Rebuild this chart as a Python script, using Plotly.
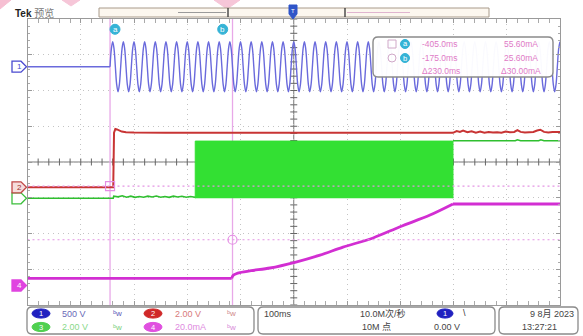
import plotly.graph_objects as go

W, H = 583, 336
GL, GR, GT, GB = 27.5, 560.0, 19.0, 305.0   # graticule box in pixels

time_range_ms = [-560.0, 440.0]          # 100 ms/div, 10 divisions
time_per_div_ms = 100.0
cursor_times_ms = [-405.0, -175.0]       # cursor a, cursor b
cursor_values_ma = [55.60, 25.60]

# channel scales (units/div) and zero position (divisions above centre)
ch_scale = [500.0, 2.0, 2.0, 20.0]
ch_zero_div = [2.666, -0.708, -1.015, -3.455]

# CH1 mains voltage: flat before cursor a, then 50 Hz sine (one cycle shape repeated)
ch1_pre_t_ms = [-560.0, -405.0]
ch1_pre_v = [0.0, 0.0]
ch1_start_ms = -405.0
ch1_period_ms = 20.0
ch1_cycle_v = [0.0, 250.0, 350.0, 250.0, 0.0, -250.0, -350.0, -250.0]

# CH2 (red) supply rail
ch2_t_ms = [-560, -399, -397.5, -395, -392, -388, -383, -375, -360, -300, -200, -100,
            0, 100, 200, 239, 246, 252, 258, 266, 274, 282, 290, 298, 306, 314, 322,
            330, 338, 346, 354, 360, 366, 374, 382, 390, 397, 403, 410, 418, 426, 434, 440]
ch2_v = [0.0, 0.0, 3.05, 3.26, 3.24, 3.18, 3.12, 3.08, 3.06, 3.05, 3.05, 3.05,
         3.05, 3.05, 3.05, 3.05, 3.15, 3.10, 3.18, 3.08, 3.14, 3.06, 3.12, 3.05, 3.10, 3.06, 3.08,
         3.05, 3.12, 3.08, 3.10, 3.20, 3.10, 3.06, 3.08, 3.10, 3.18, 3.22, 3.10, 3.06, 3.10, 3.08, 3.10]

# CH3 (green) PWM signal
ch3_pre_t_ms = [-560, -399, -398, -390, -382, -374, -366, -358, -350, -342, -334, -326,
                -318, -310, -302, -294, -286, -278, -270, -262, -254, -245]
ch3_pre_v = [0.0, 0.0, 0.12, 0.08, 0.14, 0.06, 0.12, 0.05, 0.10, 0.06, 0.12, 0.07,
             0.13, 0.06, 0.10, 0.05, 0.12, 0.07, 0.11, 0.06, 0.10, 0.06]
ch3_pwm_start_ms, ch3_pwm_end_ms = -245.0, 239.0
ch3_pwm_low_v, ch3_pwm_high_v = 0.0, 3.20
ch3_post_t_ms = [239, 250, 300, 356, 360, 366, 400, 404, 410, 440]
ch3_post_v = [3.22, 3.22, 3.22, 3.22, 3.27, 3.22, 3.22, 3.27, 3.22, 3.22]

# CH4 (magenta) current: flat, step at cursor b, rising ramp, flat
ch4_flat_t_ms = [-560, -176.5]
ch4_flat_ma = [4.0, 4.0]
ch4_ramp_t_ms = [-176.5, -174, -168, -161, -140, -104.6, -57.7, -10.7, 32.5, 89,
                 139.6, 195.9, 239]
ch4_ramp_ma = [4.0, 5.6, 6.6, 7.2, 8.3, 9.8, 13.0, 17.0, 21.5, 26.6,
               32.9, 39.4, 45.6]
ch4_end_t_ms = [239, 440]
ch4_end_ma = [45.6, 45.6]

# ---------------- helpers ----------------
def px(x):
    return x / W


def py(y):
    return 1 - y / H


def ch_range(i):
    return [(-4 - ch_zero_div[i]) * ch_scale[i], (4 - ch_zero_div[i]) * ch_scale[i]]


def zero_px(i):
    return (GT + GB) / 2 - ch_zero_div[i] * (GB - GT) / 8


def rrect(x0, y0, x1, y1, r, fill, line, width=1.2):
    p = (f"M {px(x0 + r)},{py(y0)} L {px(x1 - r)},{py(y0)} Q {px(x1)},{py(y0)} {px(x1)},{py(y0 + r)} "
         f"L {px(x1)},{py(y1 - r)} Q {px(x1)},{py(y1)} {px(x1 - r)},{py(y1)} "
         f"L {px(x0 + r)},{py(y1)} Q {px(x0)},{py(y1)} {px(x0)},{py(y1 - r)} "
         f"L {px(x0)},{py(y0 + r)} Q {px(x0)},{py(y0)} {px(x0 + r)},{py(y0)} Z")
    return dict(type="path", xref="paper", yref="paper", path=p, fillcolor=fill,
                line=dict(color=line, width=width), layer="above")


def poly(points, fill, line=None, width=1.0):
    p = "M " + " L ".join(f"{px(x)},{py(y)}" for x, y in points) + " Z"
    return dict(type="path", xref="paper", yref="paper", path=p, fillcolor=fill,
                line=dict(color=line or fill, width=width), layer="above")


def oval(cx, cy, rx, ry, fill, line=None):
    return dict(type="circle", xref="paper", yref="paper", x0=px(cx - rx), x1=px(cx + rx),
                y0=py(cy + ry), y1=py(cy - ry), fillcolor=fill,
                line=dict(color=line or fill, width=1), layer="above")


def ann(x, y, text, color="#333", size=9, xanchor="left", family="Liberation Sans, Noto Sans CJK SC"):
    return dict(x=px(x), y=py(y), xref="paper", yref="paper", text=text, showarrow=False,
                xanchor=xanchor, yanchor="middle", font=dict(color=color, size=size, family=family))


# ---------------- traces ----------------
fig = go.Figure()
BLUE, RED, GREEN, GBAND, MAG = "#6a6adc", "#c83434", "#2fbf2f", "#33e033", "#d22ed2"

# CH1
fig.add_trace(go.Scatter(x=ch1_pre_t_ms, y=ch1_pre_v, mode="lines", yaxis="y2",
                         line=dict(color=BLUE, width=1.6)))
n_cycles = int((time_range_ms[1] - ch1_start_ms) / ch1_period_ms) + 1
wave_t, wave_v = [], []
for k in range(n_cycles):
    for i, v in enumerate(ch1_cycle_v):
        t = ch1_start_ms + k * ch1_period_ms + i * ch1_period_ms / len(ch1_cycle_v)
        if t <= time_range_ms[1]:
            wave_t.append(t)
            wave_v.append(v)
fig.add_trace(go.Scatter(x=wave_t, y=wave_v, mode="lines", yaxis="y2",
                         line=dict(color=BLUE, width=1.4, shape="spline", smoothing=1.0)))

# CH3 band + lines
fig.add_trace(go.Scatter(
    x=[ch3_pwm_start_ms, ch3_pwm_start_ms, ch3_pwm_end_ms, ch3_pwm_end_ms],
    y=[ch3_pwm_low_v, ch3_pwm_high_v, ch3_pwm_high_v, ch3_pwm_low_v],
    mode="lines", fill="toself", fillcolor=GBAND, yaxis="y4",
    line=dict(color=GBAND, width=1)))
fig.add_trace(go.Scatter(x=ch3_pre_t_ms, y=ch3_pre_v, mode="lines", yaxis="y4",
                         line=dict(color=GREEN, width=1.6)))
fig.add_trace(go.Scatter(x=ch3_post_t_ms, y=ch3_post_v, mode="lines", yaxis="y4",
                         line=dict(color=GREEN, width=1.6)))

# CH2
fig.add_trace(go.Scatter(x=ch2_t_ms, y=ch2_v, mode="lines", yaxis="y3",
                         line=dict(color=RED, width=2)))

# CH4
fig.add_trace(go.Scatter(x=ch4_flat_t_ms, y=ch4_flat_ma, mode="lines", yaxis="y5",
                         line=dict(color=MAG, width=2.8)))
fig.add_trace(go.Scatter(x=ch4_ramp_t_ms, y=ch4_ramp_ma, mode="lines", yaxis="y5",
                         line=dict(color=MAG, width=2.8, shape="spline", smoothing=0.8)))
fig.add_trace(go.Scatter(x=ch4_end_t_ms, y=ch4_end_ma, mode="lines", yaxis="y5",
                         line=dict(color=MAG, width=2.8)))

# cursor level guides (dotted) drawn as lines on the CH4 axis
for v in cursor_values_ma:
    fig.add_trace(go.Scatter(x=time_range_ms, y=[v, v], mode="lines", yaxis="y5",
                             line=dict(color="#e494e4", width=1.2, dash="2px,3px")))

# cursor readout points
fig.add_trace(go.Scatter(x=cursor_times_ms, y=cursor_values_ma, mode="markers", yaxis="y5",
                         marker=dict(symbol=["square-open", "circle-open"], size=9,
                                     color="#e48ee4", line=dict(width=1.2))))

# centre cross tick marks
n_xt = int((time_range_ms[1] - time_range_ms[0]) / (time_per_div_ms / 5)) + 1
xt = [time_range_ms[0] + i * time_per_div_ms / 5 for i in range(n_xt)]
x_center = (time_range_ms[0] + time_range_ms[1]) / 2
fig.add_trace(go.Scatter(x=xt, y=[0] * len(xt), mode="markers", yaxis="y",
                         marker=dict(symbol="line-ns", size=5, line=dict(color="#666", width=1))))
yt = [-4 + i * 0.2 for i in range(41)]
fig.add_trace(go.Scatter(x=[x_center] * len(yt), y=yt, mode="markers", yaxis="y",
                         marker=dict(symbol="line-ew", size=5, line=dict(color="#666", width=1))))

# ---------------- layout ----------------
shapes = []
# centre crosshair
shapes.append(dict(type="line", xref="x", yref="y", x0=x_center, x1=x_center, y0=-4, y1=4,
                   line=dict(color="#777", width=1), layer="below"))
shapes.append(dict(type="line", xref="x", yref="y", x0=time_range_ms[0], x1=time_range_ms[1],
                   y0=0, y1=0, line=dict(color="#777", width=1), layer="below"))
# cursors
for t in cursor_times_ms:
    shapes.append(dict(type="line", xref="x", yref="y", x0=t, x1=t, y0=-4, y1=4,
                       line=dict(color="#e8a8e8", width=1.3), layer="below"))

# pink watermark bits
shapes.append(poly([(0, 0), (11, 0), (0, 9)], "#f6bfd2"))
shapes.append(poly([(62, 0), (80, 0), (71, 6)], "#f6c6d8"))
shapes.append(poly([(214, 0), (240, 0), (227, 9)], "#f6c6d8"))

# top record bar
shapes.append(dict(type="rect", xref="paper", yref="paper", x0=px(99), x1=px(489), y0=py(17), y1=py(8),
                   fillcolor="#fcf7ef", line=dict(color="#a89a8a", width=1), layer="above"))
shapes.append(dict(type="line", xref="paper", yref="paper", x0=px(178), x1=px(226), y0=py(12.5), y1=py(12.5),
                   line=dict(color="#9a9a9a", width=1), layer="above"))
shapes.append(dict(type="line", xref="paper", yref="paper", x0=px(347), x1=px(410), y0=py(12.5), y1=py(12.5),
                   line=dict(color="#e0b4cf", width=1), layer="above"))
for bx in (228, 345):
    shapes.append(dict(type="line", xref="paper", yref="paper", x0=px(bx), x1=px(bx), y0=py(17), y1=py(8),
                       line=dict(color="#333", width=1.3), layer="above"))
# trigger marker
shapes.append(poly([(289, 5), (297, 5), (297, 14), (293, 19), (289, 14)], "#2f55c8"))

# cursor labels on top
for cx in (115, 222.7):
    shapes.append(oval(cx, 29.3, 5, 5, "#35b3d6"))


# channel ground markers on the left
def marker(y, fill, line):
    return poly([(12, y - 5.5), (21, y - 5.5), (26.5, y), (21, y + 5.5), (12, y + 5.5)], fill, line, 1.3)


y1p, y2p, y3p, y4p = zero_px(0), zero_px(1), zero_px(2), zero_px(3)
shapes.append(marker(y1p, "#ffffff", "#4a4ad0"))
shapes.append(marker(y3p, "#ffffff", "#3cbf3c"))
shapes.append(marker(y2p, "#f6dcdc", "#c04848"))
shapes.append(marker(y4p, "#e044e0", "#e044e0"))

# cursor readout box
shapes.append(rrect(373, 37, 553, 77, 5, "rgba(255,255,255,0.97)", "#8a8a8a", 1.4))
shapes.append(dict(type="rect", xref="paper", yref="paper", x0=px(388), x1=px(396), y0=py(48), y1=py(40),
                   fillcolor="rgba(0,0,0,0)", line=dict(color="#d0a8c8", width=1), layer="above"))
shapes.append(dict(type="circle", xref="paper", yref="paper", x0=px(388), x1=px(396), y0=py(62), y1=py(54),
                   fillcolor="rgba(0,0,0,0)", line=dict(color="#d0a8c8", width=1), layer="above"))
shapes.append(oval(405, 44, 4.5, 4.5, "#35b3d6"))
shapes.append(oval(405, 58, 4.5, 4.5, "#35b3d6"))

# bottom status boxes
shapes.append(rrect(27, 307, 254, 334, 5, "#ffffff", "#8a8a8a", 1.3))
shapes.append(rrect(258, 307, 495, 334, 5, "#ffffff", "#8a8a8a", 1.3))
shapes.append(rrect(499, 307, 578, 334, 5, "#ffffff", "#8a8a8a", 1.3))
shapes.append(oval(41, 313.5, 9, 4.6, "#2020c0"))
shapes.append(oval(41, 327, 9, 4.6, "#50d050"))
shapes.append(oval(153, 313.5, 9, 4.6, "#d02828"))
shapes.append(oval(153, 327, 9, 4.6, "#e050e0"))
shapes.append(oval(445, 313.5, 8, 4.6, "#2020c0"))

annotations = [
    dict(x=px(13), y=py(13), xref="paper", yref="paper", showarrow=False, xanchor="left", yanchor="middle",
         text="<b>Tek</b> <span style='color:#777'>预览</span>",
         font=dict(size=10, color="#222", family="Liberation Sans, Noto Sans CJK SC")),
    ann(293, 11, "T", "#ffffff", 6, "center"),
    ann(115, 29.3, "a", "#ffffff", 8, "center"),
    ann(222.7, 29.3, "b", "#ffffff", 8, "center"),
    ann(19, y1p, "1", "#4a4ad0", 8, "center"),
    ann(19, y2p, "2", "#a03030", 8, "center"),
    ann(19, y4p, "4", "#ffffff", 8, "center"),
    ann(405, 44, "a", "#ffffff", 7.5, "center"),
    ann(405, 58, "b", "#ffffff", 7.5, "center"),
    ann(420, 44, "-405.0ms", "#e07ac6", 8.5),
    ann(420, 58, "-175.0ms", "#e07ac6", 8.5),
    ann(420, 71, "Δ230.0ms", "#e07ac6", 8.5),
    ann(540, 44, "55.60mA", "#e07ac6", 8.5, "right"),
    ann(540, 58, "25.60mA", "#e07ac6", 8.5, "right"),
    ann(543, 71, "Δ30.00mA", "#e07ac6", 8.5, "right"),
    ann(41, 313.5, "1", "#ffffff", 7.5, "center"),
    ann(41, 327, "3", "#ffffff", 7.5, "center"),
    ann(153, 313.5, "2", "#ffffff", 7.5, "center"),
    ann(153, 327, "4", "#ffffff", 7.5, "center"),
    ann(60, 313.5, "500 V", "#6a6ab8", 9),
    ann(60, 327, "2.00 V", "#8ad88a", 9),
    ann(173, 313.5, "2.00 V", "#d87a7a", 9),
    ann(173, 327, "20.0mA", "#e08ae0", 9),
    ann(117, 313.5, "ᵇw", "#5a5ab8", 8, "center"),
    ann(117, 327, "ᵇw", "#7ad07a", 8, "center"),
    ann(231, 313.5, "ᵇw", "#d08a8a", 8, "center"),
    ann(231, 327, "ᵇw", "#d88ad8", 8, "center"),
    ann(262, 313.5, "100ms", "#444", 9),
    ann(358, 313.5, "10.0M次/秒", "#444", 9),
    ann(360, 327, "10M 点", "#444", 9),
    ann(445, 313.5, "1", "#ffffff", 7.5, "center"),
    ann(461, 313, "\\", "#333", 9),
    ann(432, 327, "0.00 V", "#444", 9),
    ann(576, 313.5, "9 8月 2023", "#444", 9, "right"),
    ann(520, 327, "13:27:21", "#444", 9),
]

axis_common = dict(showticklabels=False, showline=True, linecolor="#9a9a9a", linewidth=1,
                   mirror="allticks", ticks="inside", ticklen=4, tickcolor="#9a9a9a",
                   showgrid=True, gridcolor="#c4c4c4", griddash="1px,4px", gridwidth=1,
                   zeroline=False, fixedrange=True)

fig.update_layout(
    width=W, height=H, autosize=False, margin=dict(l=0, r=0, t=0, b=0),
    paper_bgcolor="#ffffff", plot_bgcolor="#ffffff", showlegend=False,
    xaxis=dict(domain=[px(GL), px(GR)], range=time_range_ms, tick0=time_range_ms[0],
               dtick=time_per_div_ms,
               minor=dict(dtick=time_per_div_ms / 5, tick0=time_range_ms[0], ticks="inside",
                          ticklen=2, tickcolor="#aaa", showgrid=False),
               **axis_common),
    yaxis=dict(domain=[py(GB), py(GT)], range=[-4, 4], tick0=-4, dtick=1,
               minor=dict(dtick=0.2, tick0=-4, ticks="inside", ticklen=2, tickcolor="#aaa",
                          showgrid=False),
               **axis_common),
    yaxis2=dict(overlaying="y", range=ch_range(0), visible=False, fixedrange=True),
    yaxis3=dict(overlaying="y", range=ch_range(1), visible=False, fixedrange=True),
    yaxis4=dict(overlaying="y", range=ch_range(2), visible=False, fixedrange=True),
    yaxis5=dict(overlaying="y", range=ch_range(3), visible=False, fixedrange=True),
    shapes=shapes, annotations=annotations,
)

fig.write_html("out.html", config={"displayModeBar": False},
               post_script="document.body.style.margin='0';document.body.style.overflow='hidden';")
